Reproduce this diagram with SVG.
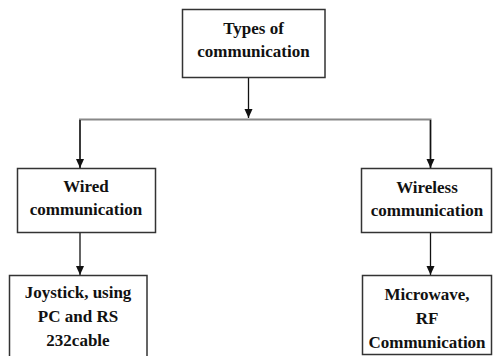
<svg xmlns="http://www.w3.org/2000/svg" width="493" height="356" viewBox="0 0 493 356">
<style>
.box{fill:#fff;stroke:#333;stroke-width:1.5}
.t{font-family:'Liberation Serif','DejaVu Serif',serif;font-weight:bold;font-size:17px;fill:#111;text-anchor:middle}
.arr{stroke:#111;stroke-width:1.3;fill:none;marker-end:url(#ah)}
.bus{stroke:#888;stroke-width:2;fill:none}
</style>
<defs>
<marker id="ah" markerWidth="10" markerHeight="10" refX="9" refY="5" orient="auto" markerUnits="userSpaceOnUse">
<path d="M0,1 L9,5 L0,9 Z" fill="#111"/>
</marker>
</defs>
<rect width="493" height="356" fill="#fff"/>
<g id="connectors">
<line class="arr" x1="248.5" y1="78" x2="248.5" y2="118"/>
<polyline class="bus" points="80,168 80,119.5 430.5,119.5 430.5,168"/>
<line class="arr" x1="80" y1="120" x2="80" y2="168"/>
<line class="arr" x1="430.5" y1="120" x2="430.5" y2="168"/>
<line class="arr" x1="80" y1="233" x2="80" y2="275"/>
<line class="arr" x1="430.5" y1="233" x2="430.5" y2="275"/>
</g>
<g id="types">
<rect class="box" x="182.5" y="9.5" width="142.5" height="68"/>
<text class="t" x="253.5" y="34">Types of</text>
<text class="t" x="253.5" y="57">communication</text>
</g>
<g id="wired">
<rect class="box" x="17.5" y="168.5" width="138" height="64"/>
<text class="t" x="86" y="192">Wired</text>
<text class="t" x="86" y="215">communication</text>
</g>
<g id="wireless">
<rect class="box" x="361.5" y="168.5" width="130" height="64"/>
<text class="t" x="427" y="193">Wireless</text>
<text class="t" x="427" y="216">communication</text>
</g>
<g id="joystick">
<rect class="box" x="9.5" y="275.5" width="137.5" height="85"/>
<text class="t" x="78" y="298">Joystick, using</text>
<text class="t" x="78" y="322">PC and RS</text>
<text class="t" x="78" y="346">232cable</text>
</g>
<g id="microwave">
<rect class="box" x="362.5" y="275.5" width="129" height="79"/>
<text class="t" x="427" y="300">Microwave,</text>
<text class="t" x="427" y="324">RF</text>
<text class="t" x="427" y="348">Communication</text>
</g>
</svg>
